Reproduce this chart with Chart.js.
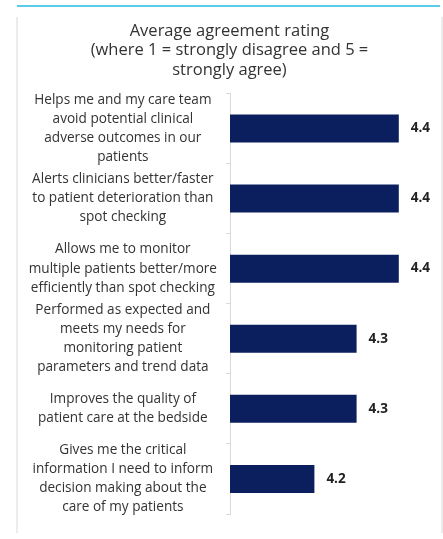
<!DOCTYPE html>
<html lang="en">
<head>
  <meta charset="UTF-8" />
  <title>Average agreement rating</title>
  <style>
    html, body { margin: 0; padding: 0; background: #fff; }
    body { width: 443px; height: 539px; position: relative; overflow: hidden; }
    .topline { position: absolute; left: 17px; top: 5px; width: 423px; height: 2px; background: #5ccbe8; }
    .panel { position: absolute; left: 16px; top: 17px; width: 423px; height: 516px;
             border-left: 2px solid #ececec; border-right: 2px solid #ececec; }
    .panel canvas { display: block; }
  </style>
</head>
<body>
  <div class="topline"></div>
  <div class="panel">
    <canvas id="ratingChart" width="423" height="516"></canvas>
  </div>

  <script src="https://cdn.jsdelivr.net/npm/chart.js"></script>
  <script>
    // statements (wrapped the way the reference wraps them)
    const statements = [
      ['Helps me and my care team', 'avoid potential clinical', 'adverse outcomes in our', 'patients'],
      ['Alerts clinicians better/faster', 'to patient deterioration than', 'spot checking'],
      ['Allows me to monitor', 'multiple patients better/more', 'efficiently than spot checking'],
      ['Performed as expected and', 'meets my needs for', 'monitoring patient', 'parameters and trend data'],
      ['Improves the quality of', 'patient care at the bedside'],
      ['Gives me the critical', 'information I need to inform', 'decision making about the', 'care of my patients']
    ];
    const ratings = [4.4, 4.4, 4.4, 4.3, 4.3, 4.2];
    const titleLines = [
      'Average agreement rating',
      '(where 1 = strongly disagree and 5 =',
      'strongly agree)'
    ];

    const FONT = "'Open Sans', 'Noto Sans', sans-serif";

    // value labels to the right of each bar
    const valueLabels = {
      id: 'valueLabels',
      afterDatasetsDraw(chart) {
        const ctx = chart.ctx;
        const meta = chart.getDatasetMeta(0);
        ctx.save();
        ctx.font = "bold 13.5px " + FONT;
        ctx.fillStyle = '#222';
        ctx.textAlign = 'left';
        ctx.textBaseline = 'middle';
        meta.data.forEach((bar, i) => {
          ctx.fillText(ratings[i].toFixed(1), bar.x + 12, bar.y);
        });
        ctx.restore();
      }
    };

    new Chart(document.getElementById('ratingChart'), {
      type: 'bar',
      data: {
        labels: statements,
        datasets: [{
          data: ratings,
          backgroundColor: '#0b1f5e',
          borderWidth: 0,
          categoryPercentage: 1,
          barPercentage: 0.4
        }]
      },
      options: {
        indexAxis: 'y',
        responsive: false,
        animation: false,
        layout: { padding: { left: 0, right: 0, top: 0, bottom: 19 } },
        plugins: {
          legend: { display: false },
          tooltip: { enabled: false },
          title: {
            display: true,
            text: titleLines,
            color: '#333',
            font: { family: FONT, size: 16.5, weight: 'normal', lineHeight: 1.2 },
            padding: { top: 4, bottom: 13 }
          }
        },
        scales: {
          x: {
            display: false,
            min: 4,
            max: 4.5
          },
          y: {
            offset: true,
            grid: {
              display: true,
              offset: true,
              drawOnChartArea: false,
              drawTicks: true,
              tickLength: 4,
              color: '#d9d9d9'
            },
            border: { display: true, color: '#d9d9d9', width: 1 },
            ticks: {
              crossAlign: 'center',
              padding: 9,
              color: '#333',
              autoSkip: false,
              font: { family: FONT, size: 13.6, lineHeight: 1.4 }
            },
            afterFit(scale) {
              scale.width = 212;
              scale.paddingTop = 0;
              scale.paddingBottom = 0;
            }
          }
        }
      },
      plugins: [valueLabels]
    });
  </script>
</body>
</html>
